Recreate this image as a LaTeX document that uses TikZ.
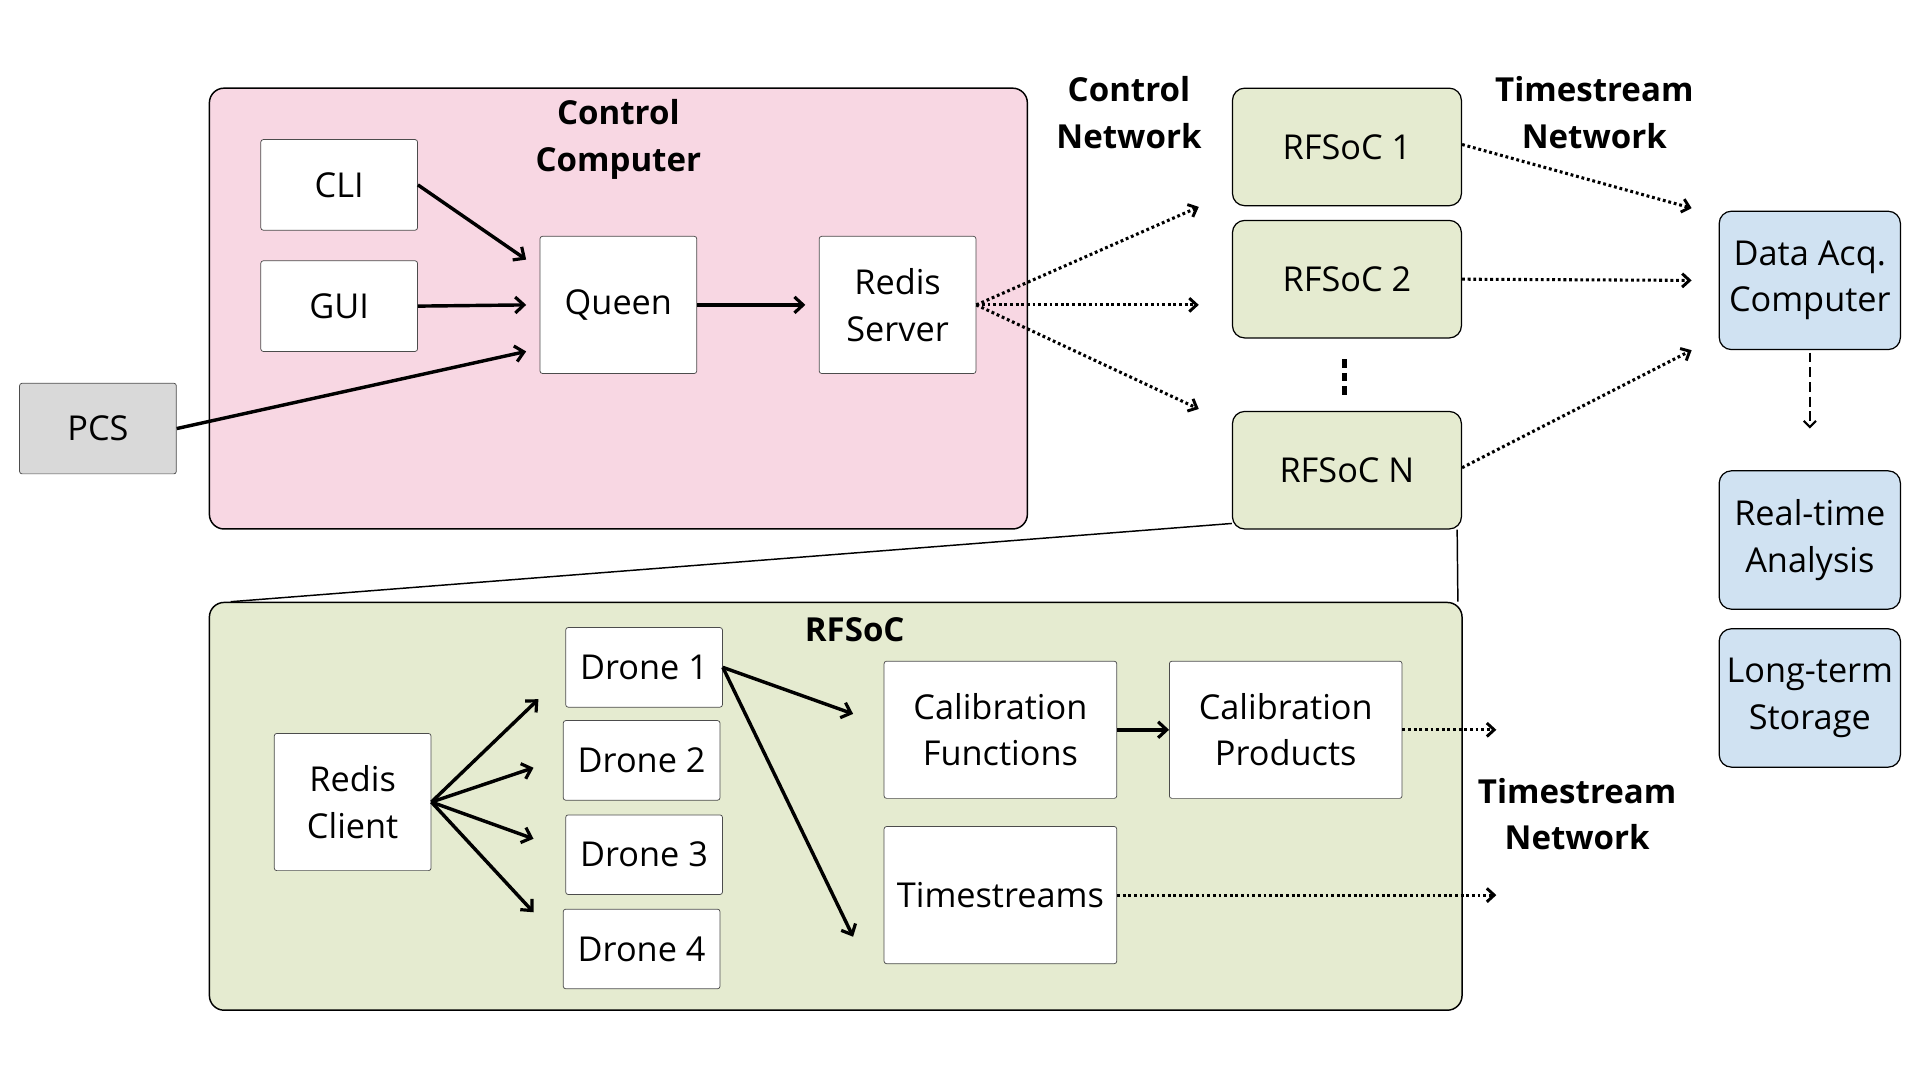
\documentclass[tikz,border=0pt]{standalone}
\usepackage{fontspec}
\setmainfont{Open Sans}
\usetikzlibrary{arrows.meta,positioning}
\definecolor{ctrlpink}{HTML}{F8D7E3}
\definecolor{socgreen}{HTML}{E5EBD0}
\definecolor{daqblue}{HTML}{D0E2F2}
\definecolor{pcsgray}{HTML}{D9D9D9}
\tikzset{
  basebox/.style={draw=black!70, line width=0.6pt, rounded corners=2pt, fill=white,
    align=center, inner sep=0pt, font=\fontsize{28}{38}\selectfont},
  smallbox/.style={basebox, minimum width=128pt, minimum height=74pt},
  tallbox/.style={basebox, minimum width=128pt, minimum height=112pt},
  widebox/.style={basebox, minimum width=190pt, minimum height=112pt},
  dronebox/.style={basebox, minimum width=128pt, minimum height=65pt},
  socbox/.style={basebox, draw=black, line width=1pt, rounded corners=10pt,
    fill=socgreen, minimum width=187pt, minimum height=96pt},
  daqbox/.style={basebox, draw=black, line width=1pt, rounded corners=10pt,
    fill=daqblue, minimum width=148pt, minimum height=113pt},
  groupbox/.style={draw=black, line width=1.2pt, rounded corners=12pt, inner sep=0pt},
  heading/.style={font=\bfseries\fontsize{27}{38}\selectfont, align=center},
  arr/.style={-{Straight Barb[length=7pt,width=13pt,line width=2.6pt]}, line width=2.8pt},
  netarr/.style={-{Straight Barb[length=6pt,width=11pt,line width=2.4pt]}, line width=2.5pt,
    dash pattern=on 2.3pt off 2.3pt},
  storearr/.style={-{Straight Barb[length=5pt,width=10pt,line width=1.8pt]}, line width=2pt,
    dash pattern=on 8pt off 4pt},
  linkline/.style={line width=1.2pt}
}
\begin{document}
\begin{tikzpicture}[x=1pt,y=-1pt]
  \useasboundingbox (0,0) rectangle (1568,882);

  % control computer
  \node[groupbox, fill=ctrlpink, minimum width=668pt, minimum height=360pt] (ctrl) at (505,252) {};
  \node[heading] (ctrltitle) at (505,114) {Control\\Computer};
  \node[smallbox] (cli) at (277,151) {CLI};
  \node[smallbox] (gui) at (277,250) {GUI};
  \node[tallbox] (queen) at (505,249) {Queen};
  \node[tallbox] (redis) at (733,249) {Redis\\Server};
  \node[smallbox, fill=pcsgray] (pcs) at (80,350) {PCS};

  \draw[arr] (cli.east) -- ([xshift=-11pt,yshift=37pt]queen.west);
  \draw[arr] (gui.east) -- ([xshift=-11pt]queen.west);
  \draw[arr] (pcs.east) -- ([xshift=-11pt,yshift=-38pt]queen.west);
  \draw[arr] (queen.east) -- ([xshift=-11pt]redis.west);

  % rfsoc boards and networks
  \node[heading] (ctrlnet) at (922,92) {Control\\Network};
  \node[heading] (tsnet) at (1302,92) {Timestream\\Network};
  \node[socbox] (rf1) at (1100,120) {RFSoC 1};
  \node[socbox] (rf2) at (1100,228) {RFSoC 2};
  \node[socbox] (rfN) at (1100,384) {RFSoC N};
  \draw[line width=4pt, dash pattern=on 7pt off 4pt, shorten <=17pt, shorten >=13pt]
    ([xshift=-2pt]rf2.south) -- ([xshift=-2pt]rfN.north);

  \draw[netarr] (redis.east) -- ([xshift=-27pt,yshift=-49pt]rf1.west);
  \draw[netarr] (redis.east) -- ([xshift=-27pt,yshift=-21pt]rf2.west);
  \draw[netarr] (redis.east) -- ([xshift=-27pt,yshift=50pt]rfN.west);

  % data acquisition
  \node[daqbox] (daq) at (1478,229) {Data Acq.\\Computer};
  \node[daqbox] (rta) at (1478,441) {Real-time\\Analysis};
  \node[daqbox] (lts) at (1478,570) {Long-term\\Storage};
  \coordinate (daqout) at (1478,350);

  \draw[netarr] ([yshift=2pt]rf1.east) -- ([xshift=-22pt,yshift=59pt]daq.west);
  \draw[netarr] (rf2.east) -- ([xshift=-22pt]daq.west);
  \draw[netarr] ([yshift=2pt]rfN.east) -- ([xshift=-22pt,yshift=-57pt]daq.west);
  \draw[storearr] ([yshift=-2pt]daq.south) -- (daqout);

  % inside one rfsoc
  \node[groupbox, fill=socgreen, minimum width=1023pt, minimum height=333pt] (socgroup) at (682.5,658.5) {};
  \node[heading] (soctitle) at (698,514) {RFSoC};
  \draw[linkline] ([yshift=5pt]rfN.south west) -- ([xshift=18pt]socgroup.north west);
  \draw[linkline] ([xshift=-4pt]rfN.south east) -- ([xshift=-4pt]socgroup.north east);

  \node[tallbox] (client) at (288,655) {Redis\\Client};
  \node[dronebox] (drone1) at (526,545) {Drone 1};
  \node[dronebox] (drone2) at (524,621) {Drone 2};
  \node[dronebox] (drone3) at (526,698) {Drone 3};
  \node[dronebox] (drone4) at (524,775) {Drone 4};
  \node[widebox] (calfn) at (817,596) {Calibration\\Functions};
  \node[widebox] (calprod) at (1050,596) {Calibration\\Products};
  \node[widebox] (tstream) at (817,731) {Timestreams};
  \node[heading] (tsnet2) at (1288,665) {Timestream\\Network};
  \coordinate (prodout) at (1222,596);
  \coordinate (tsout) at (1222,731);

  \draw[arr] (client.east) -- ([xshift=-22pt,yshift=-26pt]drone1.west);
  \draw[arr] (client.east) -- ([xshift=-24pt,yshift=-6pt]drone2.west);
  \draw[arr] (client.east) -- ([xshift=-26pt,yshift=13pt]drone3.west);
  \draw[arr] (client.east) -- ([xshift=-24pt,yshift=30pt]drone4.west);
  \draw[arr] (drone1.east) -- ([xshift=-25pt,yshift=13pt]calfn.west);
  \draw[arr] (drone1.east) -- ([xshift=-25pt,yshift=-34pt]tstream.west);
  \draw[arr] (calfn.east) -- (calprod.west);
  \draw[netarr] (calprod.east) -- (prodout);
  \draw[netarr] (tstream.east) -- (tsout);
\end{tikzpicture}
\end{document}
